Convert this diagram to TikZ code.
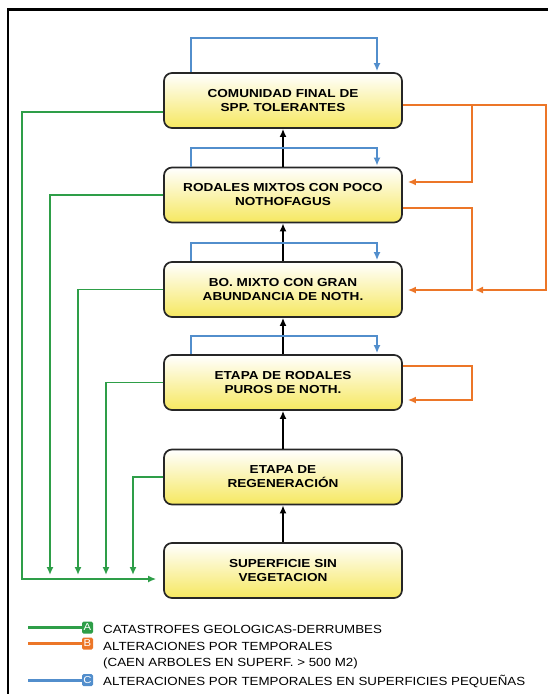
\documentclass[tikz,border=0pt]{standalone}
\usepackage{fontspec}
\setmainfont{Liberation Sans}[FakeStretch=1.13]
\newfontfamily\cajafont{Liberation Sans}[FakeStretch=1.17]
\usetikzlibrary{arrows.meta}

\definecolor{verde}{RGB}{46,158,72}
\definecolor{naranjo}{RGB}{236,118,40}
\definecolor{azul}{RGB}{82,142,204}
\definecolor{amarillo}{RGB}{246,232,96}

\begin{document}
\begin{tikzpicture}[x=1pt,y=-1pt,
  etapa/.style={draw=black!85, line width=1.7pt, rounded corners=8pt,
    minimum width=238pt, minimum height=55pt, inner sep=0pt, align=center,
    top color=white, bottom color=amarillo,
    font=\cajafont\fontsize{11.6}{14}\selectfont\bfseries},
  punta/.style={-{Latex[length=8pt,width=7pt]}},
  sube/.style={punta, line width=2.2pt},
  flA/.style={punta, verde, line width=1.9pt},
  flB/.style={punta, naranjo, line width=1.9pt},
  flC/.style={punta, azul, line width=1.9pt},
  ley/.style={anchor=base west, inner sep=0pt, font=\fontsize{11.8}{16}\selectfont},
  letra/.style={minimum width=11pt, minimum height=12pt, inner sep=0pt,
    rounded corners=1.5pt, text=white, font=\fontsize{10}{10}\selectfont}
]
\useasboundingbox (0,0) rectangle (548,694);
\draw[line width=2.5pt] (8,694) -- (8,9.5) -- (548,9.5);

% etapas de la sucesion
\node[etapa] (c1) at (283,100.5) {COMUNIDAD FINAL DE\\SPP. TOLERANTES};
\node[etapa] (c2) at (283,195) {RODALES MIXTOS CON POCO\\NOTHOFAGUS};
\node[etapa] (c3) at (283,289.5) {BO. MIXTO CON GRAN\\ABUNDANCIA DE NOTH.};
\node[etapa] (c4) at (283,382.5) {ETAPA DE RODALES\\PUROS DE NOTH.};
\node[etapa] (c5) at (283,477) {ETAPA DE\\REGENERACIÓN};
\node[etapa] (c6) at (283,570.5) {SUPERFICIE SIN\\VEGETACION};

\foreach \a/\b in {c6/c5,c5/c4,c4/c3,c3/c2,c2/c1}
  \draw[sube] (\a) -- (\b);

% C: superficies pequenas
\draw[flC] ([xshift=-92pt]c1.north) -- ++(0,-34) -| ([xshift=94pt,yshift=1pt]c1.north);
\foreach \c in {c2,c3,c4}
  \draw[flC] ([xshift=-92pt]\c.north) -- ++(0,-18.5) -| ([xshift=94pt,yshift=1pt]\c.north);

% A: catastrofes
\coordinate (esq) at (22,579);
\draw[flA] ([yshift=-11.5pt]c1.west) -| (esq) -- ([xshift=-7pt,yshift=-8.5pt]c6.west);
\foreach \c/\x in {c2/50,c3/78,c4/106,c5/133} {
  \coordinate (pie\c) at (\x,575);
  \draw[flA] (\c.west) -| (pie\c);
}

% B: temporales
\coordinate (ramal) at (472,105);
\coordinate (union) at (472,290);
\draw[flB] ([yshift=-4.5pt]c1.east) -| (546,290) -- (475,290);
\draw[flB] (ramal) |- ([xshift=5pt,yshift=13pt]c2.east);
\draw[flB] ([yshift=-13pt]c2.east) -| (union) -- ([xshift=5pt,yshift=-0.5pt]c3.east);
\draw[flB] ([yshift=16.5pt]c4.east) -- ++(69,0) |- ([xshift=5pt,yshift=-17.5pt]c4.east);

% leyenda
\node[letra, fill=verde] (la) at (87.5,627.5) {A};
\node[letra, fill=naranjo] (lb) at (87.5,643.5) {B};
\node[letra, fill=azul] (lc) at (87.5,680) {C};
\draw[verde, line width=3pt] (28,627.5) -- (la.west);
\draw[naranjo, line width=3pt] (28,643.5) -- (lb.west);
\draw[azul, line width=3pt] (28,680) -- (lc.west);
\node[ley] (ta) at (103,633.3) {CATASTROFES GEOLOGICAS-DERRUMBES};
\node[ley] (tb) at (103,650.5) {ALTERACIONES POR TEMPORALES};
\node[ley] (tb2) at (103,666) {(CAEN ARBOLES EN SUPERF. > 500 M2)};
\node[ley] (tc) at (103,685) {ALTERACIONES POR TEMPORALES EN SUPERFICIES PEQUEÑAS};
\end{tikzpicture}
\end{document}
